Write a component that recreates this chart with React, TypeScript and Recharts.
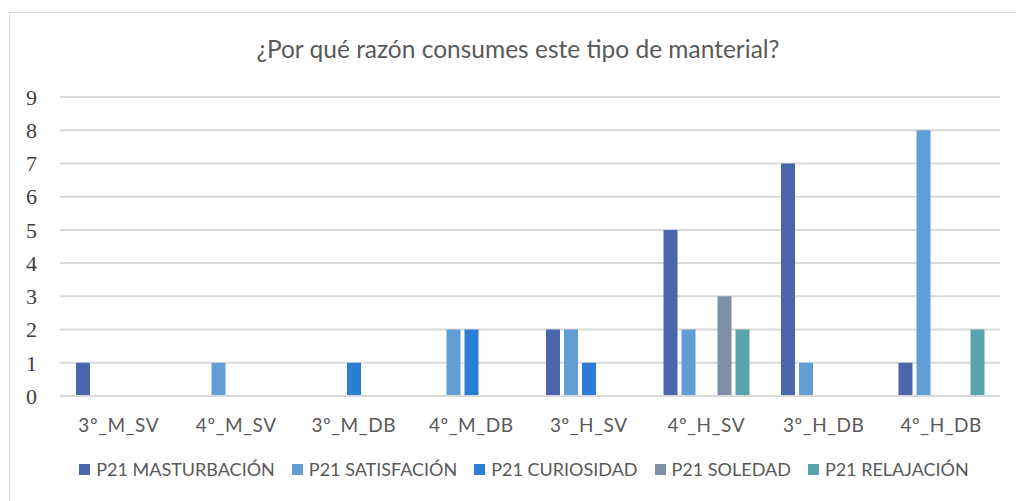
import {Bar, BarChart, CartesianGrid, XAxis, YAxis} from "recharts";

const categories = ["3º_M_SV", "4º_M_SV", "3º_M_DB", "4º_M_DB", "3º_H_SV", "4º_H_SV", "3º_H_DB", "4º_H_DB"];
const masturbacion = [1, 0, 0, 0, 2, 5, 7, 1];
const satisfacion = [0, 1, 0, 2, 2, 2, 1, 8];
const curiosidad = [0, 0, 1, 2, 1, 0, 0, 0];
const soledad = [0, 0, 0, 0, 0, 3, 0, 0];
const relajacion = [0, 0, 0, 0, 0, 2, 0, 2];
const yTicks = [0, 1, 2, 3, 4, 5, 6, 7, 8, 9];

const series = [
    {key: "mast", name: "P21 MASTURBACIÓN", color: "#4a67ae"},
    {key: "sat", name: "P21 SATISFACIÓN", color: "#619ed3"},
    {key: "cur", name: "P21 CURIOSIDAD", color: "#2a7fd4"},
    {key: "sol", name: "P21 SOLEDAD", color: "#7f8fa8"},
    {key: "rel", name: "P21 RELAJACIÓN", color: "#59a4ac"},
];

const data = categories.map((name, i) => ({
    name,
    mast: masturbacion[i] || null,
    sat: satisfacion[i] || null,
    cur: curiosidad[i] || null,
    sol: soledad[i] || null,
    rel: relajacion[i] || null,
}));

const sans = "Lato, 'Noto Sans', sans-serif";

export default function App() {
    return (
        <div style={{position: "absolute", left: 0, top: 0, width: 1016, height: 501, background: "#fff", overflow: "hidden"}}>
            <div style={{position: "absolute", left: 9, top: 12, width: 1100, height: 600, borderTop: "1px solid #d9d9d9", borderLeft: "1px solid #d9d9d9"}}></div>
            <div style={{position: "absolute", left: 0, top: 34, width: 1036, textAlign: "center", fontFamily: sans, fontSize: 24.5, color: "#595959"}}>
                ¿Por qué razón consumes este tipo de manterial?
            </div>
            <div style={{position: "absolute", left: 0, top: 0}}>
                <BarChart width={1016} height={501} data={data} margin={{top: 97, right: 16, left: 10, bottom: 0}}
                          barSize={14} barGap={4}>
                    <CartesianGrid vertical={false} stroke="#d9d9d9" strokeWidth={2}/>
                    <XAxis dataKey="name" axisLine={{stroke: "#d9d9d9", strokeWidth: 2}} tickLine={false} height={105}
                           tickMargin={17} interval={0}
                           tick={{fontFamily: sans, fontSize: 19, fill: "#595959", letterSpacing: 0.6}}/>
                    <YAxis domain={[0, 9]} ticks={yTicks} width={50} axisLine={false} tickLine={false} tickMargin={17}
                           tick={{fontFamily: "'Liberation Serif', serif", fontSize: 22, fill: "#404040"}}/>
                    {series.map(s => (
                        <Bar key={s.key} dataKey={s.key} name={s.name} fill={s.color} isAnimationActive={false}/>
                    ))}
                </BarChart>
            </div>
            <div style={{position: "absolute", left: 0, top: 458, width: 1048, display: "flex", justifyContent: "center", gap: 17,
                fontFamily: sans, fontSize: 18, color: "#595959"}}>
                {series.map(s => (
                    <span key={s.key} style={{display: "flex", alignItems: "center", gap: 6}}>
                        <span style={{width: 11, height: 11, background: s.color, display: "inline-block"}}></span>
                        {s.name}
                    </span>
                ))}
            </div>
        </div>
    );
}
